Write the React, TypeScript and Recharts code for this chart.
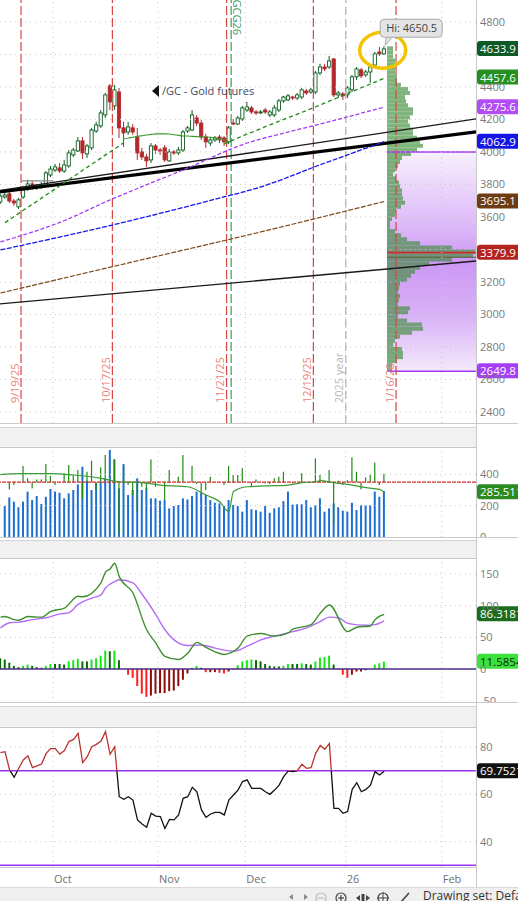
import React from "react";
import {
  ComposedChart,
  BarChart,
  Bar,
  Line,
  XAxis,
  YAxis,
  ReferenceLine,
  ReferenceArea,
  ReferenceDot,
  Cell,
} from "recharts";

const FONT = '"Open Sans", "DejaVu Sans", sans-serif';

// time axis = trading-day index (0 = mid Sep 2025, 84 = last bar)
const X_DOMAIN: [number, number] = [-0.1, 104.1];
const monthPos = [11.5, 34.5, 53.6, 75.6, 96.6];
const monthLabels = ["Oct", "Nov", "Dec", "26", "Feb"];

const markers = [
  { x: 4.5, text: "9/19/25", line: "#d5463f", color: "#ec8179", top: false, dash: "9 3" },
  { x: 24.5, text: "10/17/25", line: "#d5463f", color: "#ec8179", top: false, dash: "9 3" },
  { x: 49.5, text: "11/21/25", line: "#d5463f", color: "#ec8179", top: false, dash: "9 3" },
  { x: 50.5, text: "/GCG26", line: "#3a9c62", color: "#3a9c62", top: true, dash: "9 3" },
  { x: 68.5, text: "12/19/25", line: "#d5463f", color: "#ec8179", top: false, dash: "9 3" },
  { x: 75.6, text: "2025 year", line: "#b0b0b0", color: "#b8b8b8", top: false, dash: "8 4" },
  { x: 86.6, text: "1/16/26", line: "#d5463f", color: "#ec8179", top: false, dash: "9 3" },
];

// ---- price panel ----
const PRICE_DOMAIN: [number, number] = [2332, 4935];
const priceTicks = [2400, 2600, 2800, 3000, 3200, 3600, 3800, 4000, 4200, 4400, 4800];
const priceGrid = [2400, 2600, 2800, 3000, 3200, 3400, 3600, 3800, 4000, 4200, 4400, 4600, 4800];

const open = [
  3692, 3723, 3742, 3698, 3662, 3723, 3772, 3803, 3785, 3785,
  3797, 3858, 3889, 3902, 3883, 3914, 3982, 4006, 4068, 3988,
  4025, 4129, 4160, 4228, 4406, 4283, 4369, 4148, 4123, 4148,
  4092, 4000, 3969, 3951, 4037, 4012, 4025, 3945, 4000, 3994,
  4012, 4129, 4135, 4209, 4178, 4092, 4055, 4074, 4092, 4086,
  4062, 4178, 4172, 4203, 4258, 4271, 4246, 4240, 4258, 4228,
  4228, 4258, 4314, 4320, 4338, 4332, 4338, 4375, 4369, 4369,
  4486, 4523, 4523, 4572, 4351, 4357, 4351, 4382, 4462, 4505,
  4474, 4492, 4535, 4615, 4603,
];
const high = [
  3742, 3748, 3754, 3711, 3717, 3791, 3828, 3822, 3803, 3815,
  3883, 3914, 3926, 3932, 3951, 4012, 4025, 4092, 4092, 4049,
  4148, 4185, 4258, 4363, 4418, 4412, 4394, 4185, 4185, 4172,
  4148, 4025, 3988, 4055, 4049, 4025, 4043, 4018, 4012, 4031,
  4135, 4160, 4258, 4228, 4197, 4111, 4092, 4098, 4105, 4098,
  4160, 4203, 4222, 4283, 4308, 4283, 4258, 4258, 4271, 4258,
  4289, 4326, 4345, 4357, 4345, 4363, 4394, 4388, 4394, 4498,
  4542, 4542, 4591, 4578, 4375, 4369, 4406, 4474, 4523, 4517,
  4505, 4535, 4615, 4646, 4650.5,
];
const low = [
  3680, 3711, 3686, 3668, 3649, 3711, 3760, 3766, 3766, 3772,
  3785, 3846, 3877, 3871, 3871, 3902, 3969, 4000, 3957, 3963,
  4012, 4117, 4148, 4209, 4258, 4258, 4086, 4031, 4105, 4105,
  3951, 3951, 3908, 3932, 3988, 3982, 3938, 3938, 3982, 3982,
  4000, 4117, 4129, 4160, 4074, 4025, 4037, 4062, 4055, 4037,
  4049, 4166, 4166, 4191, 4246, 4234, 4228, 4234, 4234, 4215,
  4215, 4246, 4302, 4314, 4320, 4320, 4326, 4351, 4357, 4357,
  4474, 4498, 4511, 4338, 4332, 4320, 4332, 4369, 4443, 4455,
  4462, 4425, 4523, 4591, 4597,
];
const close = [
  3729, 3735, 3698, 3686, 3705, 3766, 3803, 3785, 3791, 3797,
  3871, 3895, 3908, 3883, 3920, 3994, 4012, 4068, 3994, 4037,
  4135, 4166, 4240, 4351, 4308, 4382, 4148, 4117, 4154, 4123,
  3994, 3969, 3945, 4037, 4012, 4009, 3951, 4000, 3994, 4012,
  4123, 4148, 4228, 4178, 4092, 4062, 4074, 4086, 4074, 4062,
  4148, 4172, 4209, 4271, 4277, 4246, 4240, 4246, 4246, 4246,
  4271, 4314, 4338, 4345, 4332, 4351, 4382, 4363, 4382, 4486,
  4523, 4511, 4560, 4351, 4363, 4345, 4394, 4462, 4511, 4468,
  4492, 4523, 4603, 4603, 4633.9,
];

// dashed green trailing stop (absent while price consolidates)
const trailStop: (number | null)[] = [
  null, 3565, 3584, 3603, 3622, 3641, 3660, 3678, 3697, 3716,
  3735, 3754, 3773, 3792, 3811, 3830, 3849, 3868, 3887, 3906,
  3925, 3943, 3962, 3982, 4000, 4018, 4038, 4058, null, null,
  null, null, null, null, null, null, null, null, null, null,
  null, null, null, null, null, null, null, null, null, 4049,
  4062, 4074, 4086, 4098, 4111, 4121, 4132, 4144, 4156, 4167,
  4178, 4189, 4200, 4211, 4222, 4233, 4244, 4255, 4266, 4278,
  4289, 4301, 4313, 4324, 4336, 4348, 4360, 4372, 4383, 4395,
  4407, 4418, 4430, 4442, 4454,
];
// solid green line through the November range
const midLine: [number, number][] = [
  [27, 4080], [28, 4086], [29, 4090], [30, 4096], [31, 4100], [32, 4104], [33, 4108],
  [34, 4111], [35, 4111], [36, 4111], [37, 4110], [38, 4106], [39, 4102], [40, 4098],
  [41, 4098], [42, 4096], [43, 4094], [44, 4092], [45, 4092], [46, 4090], [47, 4086],
  [48, 4080], [49, 4074], [50, 4062],
];
const maPurple: [number, number][] = [[0, 3446], [14, 3578], [24, 3705], [30, 3775], [40, 3889], [54, 4055], [62, 4116], [70, 4172], [84, 4276]];
const maBlue: [number, number][] = [[0, 3397], [24, 3547], [46, 3702], [57, 3785], [70, 3921], [84, 4063]];
const maBrown: [number, number][] = [[0, 3132], [28, 3317], [57, 3508], [84, 3695]];

const priceTags = [
  { v: 4633.9, text: "4633.9", bg: "#0e5a26" },
  { v: 4457.6, text: "4457.6", bg: "#25901f" },
  { v: 4275.6, text: "4275.6", bg: "#b24cf5" },
  { v: 4062.9, text: "4062.9", bg: "#1515e6" },
  { v: 3695.1, text: "3695.1", bg: "#6e3c12" },
  { v: 3379.9, text: "3379.9", bg: "#b3241f" },
  { v: 2649.8, text: "2649.8", bg: "#a63ef5" },
];

// volume profile (25-point bins from 2650 up)
const profileStart = 2650;
const profileStep = 25;
const profileVol = [
  5, 5, 10, 16, 16, 15, 6, 8, 13, 25,
  36, 35, 20, 11, 21, 23, 11, 12, 13, 11,
  12, 13, 20, 24, 28, 33, 42, 65, 86, 88,
  65, 33, 20, 14, 8, 3, 3, 5, 8, 9,
  14, 18, 16, 15, 15, 13, 12, 9, 6, 8,
  11, 13, 15, 24, 30, 36, 33, 30, 26, 26,
  23, 21, 23, 26, 26, 21, 19, 18, 23, 21,
  14, 10, 10, 8, 8, 8, 8, 6, 6, 6,
];

// ---- volume panel ----
const volume: (number | null)[] = [
  null, 198, 253, 226, 190, 226, 290, 236, 262, 211,
  257, 307, 290, 283, 247, 279, 300, 336, 449, 360,
  300, 343, 353, 375, 556, 496, 311, 466, 268, 300,
  375, 300, 311, 247, 247, 232, 236, 183, 198, 204,
  247, 240, 262, 290, 279, 268, 236, 219, 215, 198,
  236, 204, 198, 162, 236, 177, 172, 162, 198, 155,
  183, 190, 230, 290, 207, 209, 209, 236, 190, 204,
  247, 162, 183, 215, 190, 168, 162, 219, 172, 204,
  204, 204, 290, 257, 294,
];
const VOL_BASE = 350;
const volDev: (number | null)[] = [
  null, null, 304, 332, null, 454, 375, 311, 368, 368,
  466, 390, 332, null, 407, 460, 396, 428, 247, 417,
  488, 300, 445, 524, null, 496, 24, 460, 332, 268,
  162, 321, 300, 496, 321, null, 236, 428, null, 385,
  524, null, 454, 339, 268, 300, 385, null, null, 332,
  454, 396, 396, 439, null, 321, 368, null, 343, 339,
  375, 385, 417, null, 343, null, 407, null, 347, 502,
  396, null, 428, 77, 360, 332, 364, 509, 417, 304,
  381, 396, 475, 332, 403,
];
const volAvg: [number, number][] = [
  [0, 398], [4, 405], [11, 405], [16, 396], [22, 375], [26, 353], [31, 347], [35, 332],
  [41, 321], [45, 268], [48, 225], [50, 162], [51, 290], [54, 321], [58, 326], [63, 332],
  [66, 347], [69, 353], [70, 360], [73, 347], [77, 332], [80, 315], [83, 304], [84, 286],
];

// ---- MACD panel ----
const macdLine: [number, number][] = [
  [0, 82], [1, 83], [3, 78], [4, 77], [6, 83], [8, 82], [9, 82], [11, 91], [14, 96], [17, 115],
  [18, 114], [22, 136], [23, 153], [24, 158], [25, 167], [26, 146], [29, 120], [32, 62], [34, 41],
  [36, 20], [39, 15], [41, 25], [43, 42], [45, 34], [49, 23], [52, 33], [54, 52], [57, 56], [60, 52],
  [63, 57], [64, 63], [65, 65], [68, 70], [70, 88], [72, 101], [76, 59], [78, 66], [81, 68], [82, 78],
  [84, 86.3],
];
const signalLine: [number, number][] = [
  [0, 65], [2, 73], [4, 74], [7, 78], [10, 81], [13, 87], [15, 89], [17, 102], [20, 112], [22, 117],
  [23, 128], [25, 138], [26, 141], [29, 136], [31, 118], [34, 86], [36, 62], [39, 41], [41, 37],
  [44, 38], [47, 33], [51, 28], [54, 36], [57, 46], [60, 52], [64, 59], [67, 65], [70, 75], [72, 82],
  [74, 81], [76, 72], [80, 69], [82, 70], [84, 76],
];
const macdHist = [
  17, 15, 10, 5, 3, 5, 7, 5, 3, 2,
  5, 8, 8, 8, 7, 12, 14, 16, 12, 12,
  15, 17, 21, 29, 28, 29, 14, 0, -9, -14,
  -27, -39, -44, -42, -39, -38, -38, -35, -34, -27,
  -17, -7, 2, 5, 2, -5, -5, -5, -6, -7,
  -4, -1, 6, 12, 14, 15, 14, 12, 8, 5,
  4, 4, 5, 8, 8, 8, 9, 8, 7, 12,
  18, 19, 21, 7, -1, -9, -14, -9, -4, -4,
  -2, 0, 7, 9, 11.6,
];

// ---- RSI panel ----
const rsi = [
  77.6, 78.0, 70.3, 67.2, 71.0, 74.5, 76.3, 71.3, 72.0, 72.8,
  77.3, 79.3, 79.3, 77.0, 78.5, 82.3, 83.2, 85.8, 73.4, 75.9,
  80.1, 81.1, 82.5, 86.5, 76.9, 80.1, 59.0, 57.9, 59.0, 57.6,
  49.2, 47.5, 46.1, 52.0, 50.8, 50.6, 45.6, 49.4, 49.2, 51.3,
  58.3, 59.0, 63.0, 61.1, 53.4, 50.3, 51.7, 52.4, 52.4, 51.3,
  57.6, 59.7, 61.8, 65.4, 66.1, 62.5, 62.5, 62.5, 61.1, 60.0,
  61.8, 63.9, 67.5, 69.9, 69.6, 70.0, 72.7, 71.0, 71.3, 77.3,
  80.6, 79.0, 81.5, 54.1, 54.1, 52.0, 52.7, 62.1, 64.9, 61.1,
  62.1, 63.9, 69.6, 68.2, 69.75,
];

// ---------- rows ----------
const rowsOf = (pts: [number, number][]) => pts.map(([i, v]) => ({ i, v }));

const priceRows = close.map((c, i) => ({
  i,
  o: open[i],
  h: high[i],
  l: low[i],
  c,
  range: [low[i], high[i]],
  trail: trailStop[i],
}));

const profileRows = profileVol.map((v, k) => ({ p: profileStart + profileStep * (k + 0.5), v }));

const volRows = volume.map((v, i) => {
  const d = volDev[i];
  return {
    i,
    vol: v,
    dev: d == null ? null : [Math.min(VOL_BASE, d), Math.max(VOL_BASE, d)],
  };
});

const macdRows = macdHist.map((h, i) => ({ i, hist: h }));
const histColor = (i: number) => {
  const v = macdHist[i];
  const prev = i > 0 ? macdHist[i - 1] : v;
  if (v >= 0) return v > prev ? "#19e619" : "#0a6a0a";
  return v < prev ? "#ff1f1f" : "#8c0b0b";
};

const rsiRows = rsi.map((v, i) => ({ i, rsi: v }));
const rsiMax = Math.max(...rsi);
const rsiMin = Math.min(...rsi);
const rsiSplit = (rsiMax - 70) / (rsiMax - rsiMin);

// ---------- small renderers ----------
function Candle(props: any) {
  const { x, y, width, height, payload } = props;
  if (!payload || payload.h == null) return null;
  const { o, h, l, c } = payload;
  const k = h - l > 0 ? height / (h - l) : 0;
  const cx = x + width / 2;
  const yO = y + (h - o) * k;
  const yC = y + (h - c) * k;
  const up = c >= o;
  const col = up ? "#0b5d1e" : "#b3282d";
  const top = Math.min(yO, yC);
  const bh = Math.max(Math.abs(yC - yO), 1);
  return (
    <g>
      <line x1={cx} x2={cx} y1={y} y2={y + height} stroke={col} strokeWidth={1} />
      <rect x={cx - 1.6} y={top} width={3.2} height={bh} fill={up ? "#fff" : col} stroke={col} strokeWidth={0.9} />
    </g>
  );
}

function DevBar(props: any) {
  const { x, y, width, height } = props;
  if (height == null || isNaN(height)) return null;
  return <rect x={x + width / 2 - 0.6} y={y} width={1.2} height={Math.abs(height)} fill="#1e8c12" />;
}

function Tag(props: any) {
  const { viewBox, text, bg, fg = "#fff" } = props;
  if (!viewBox) return null;
  const x = viewBox.x + viewBox.width + 1;
  const y = viewBox.y;
  return (
    <g>
      <rect x={x} y={y - 8} width={50} height={15} rx={3} ry={3} fill={bg} />
      <text x={x + 3} y={y + 4} fill={fg} fontSize={11.5} fontFamily={FONT}>
        {text}
      </text>
    </g>
  );
}

function MarkerLabel(props: any) {
  const { viewBox, text, color, top } = props;
  if (!viewBox) return null;
  const x = viewBox.x;
  if (top) {
    return (
      <text transform={`translate(${x + 2},${viewBox.y + 35}) rotate(90)`} textAnchor="end" fontSize={11} fill={color} fontFamily={FONT}>
        {text}
      </text>
    );
  }
  return (
    <text transform={`translate(${x - 2.5},${viewBox.y + viewBox.height - 20}) rotate(-90)`} textAnchor="start" fontSize={11} fill={color} fontFamily={FONT}>
      {text}
    </text>
  );
}

function HiBubble(props: any) {
  const { cx, cy } = props;
  return (
    <g>
      <ellipse cx={cx - 1.5} cy={cy + 4} rx={23} ry={18} fill="none" stroke="#f3c300" strokeWidth={3.5} />
      <path d={`M ${cx + 2} ${cy - 10} L ${cx + 1} ${cy - 1} L ${cx + 9} ${cy - 10}`} fill="#e4e4e4" stroke="#a9a9a9" strokeWidth={1} />
      <rect x={cx - 4} y={cy - 27} width={62} height={18} rx={4} ry={4} fill="#e4e4e4" stroke="#a9a9a9" strokeWidth={1} />
      <text x={cx + 2} y={cy - 14} fontSize={11} fill="#444" fontFamily={FONT}>
        Hi: 4650.5
      </text>
    </g>
  );
}

function MonthTick(props: any) {
  const { x, y, payload } = props;
  const k = monthPos.indexOf(payload.value);
  return (
    <text x={x + 1} y={y + 16} fontSize={11} fill="#707070" fontFamily={FONT}>
      {monthLabels[k]}
    </text>
  );
}

const tickStyle = { fontSize: 11, fill: "#7a7a7a", fontFamily: FONT };
const gridProps = { stroke: "#c6c6c6", strokeDasharray: "1 4", strokeWidth: 1 };

const monthLines = () =>
  monthPos.map((m) => <ReferenceLine key={`m${m}`} x={m} {...gridProps} />);

// ---------- panels ----------
function ProfileChart() {
  return (
    <BarChart width={89} height={423} data={profileRows} layout="vertical" margin={{ top: 0, right: 0, bottom: 0, left: 0 }}>
      <defs>
        <linearGradient id="vaGrad" x1="0" y1="0" x2="0" y2="1">
          <stop offset="0" stopColor="#f7f0fd" />
          <stop offset="0.35" stopColor="#dcb6f8" />
          <stop offset="0.5" stopColor="#cc97f4" />
          <stop offset="0.75" stopColor="#d9b2f7" />
          <stop offset="1" stopColor="#f4e9fc" />
        </linearGradient>
      </defs>
      <XAxis type="number" domain={[0, 89]} hide allowDataOverflow />
      <YAxis type="number" dataKey="p" domain={PRICE_DOMAIN} hide allowDataOverflow reversed />
      <ReferenceArea y1={2649.8} y2={4000} fill="url(#vaGrad)" fillOpacity={1} stroke="none" />
      <Bar dataKey="v" barSize={4} fill="#3d8f3a" fillOpacity={0.66} isAnimationActive={false} />
      <ReferenceLine y={4000} stroke="#a335f2" strokeWidth={1.5} />
      <ReferenceLine y={2649.8} stroke="#a335f2" strokeWidth={1.5} />
      <ReferenceLine y={3352} stroke="#5b5b2a" strokeWidth={1.2} />
      <ReferenceLine y={3379.9} stroke="#cf2b2b" strokeWidth={1.8} />
    </BarChart>
  );
}

function PriceChart() {
  return (
    <ComposedChart width={518} height={423} data={priceRows} margin={{ top: 0, right: 0, bottom: 0, left: 0 }}>
      <XAxis type="number" dataKey="i" domain={X_DOMAIN} hide allowDataOverflow />
      <YAxis
        orientation="right"
        width={42}
        domain={PRICE_DOMAIN}
        ticks={priceTicks}
        allowDataOverflow
        axisLine={false}
        tickLine={false}
        tickSize={0}
        tickMargin={4}
        tick={tickStyle}
        interval={0}
      />
      {priceGrid.map((v) => (
        <ReferenceLine key={`g${v}`} y={v} {...gridProps} />
      ))}
      {monthLines()}
      {markers.map((m) => (
        <ReferenceLine
          key={m.text}
          x={m.x}
          stroke={m.line}
          strokeWidth={1.2}
          strokeDasharray={m.dash}
          label={<MarkerLabel text={m.text} color={m.color} top={m.top} />}
        />
      ))}
      <ReferenceLine segment={[{ x: 4.6, y: 3822 }, { x: 11.6, y: 3822 }]} stroke="#8a8a8a" strokeWidth={1.3} />
      <ReferenceLine segment={[{ x: -0.1, y: 3065 }, { x: 104.1, y: 3329 }]} stroke="#1a1a1a" strokeWidth={1.3} />
      <ReferenceLine segment={[{ x: -0.1, y: 3763 }, { x: 104.1, y: 4203 }]} stroke="#1a1a1a" strokeWidth={1.3} />
      <ReferenceLine segment={[{ x: -0.1, y: 3754 }, { x: 104.1, y: 4123 }]} stroke="#000" strokeWidth={3.2} />
      <Line data={rowsOf(maBrown)} dataKey="v" type="monotone" stroke="#7b4a1c" strokeWidth={1.2} strokeDasharray="5 1.5" dot={false} activeDot={false} isAnimationActive={false} />
      <Line data={rowsOf(maBlue)} dataKey="v" type="monotone" stroke="#1717f0" strokeWidth={1.3} strokeDasharray="5 1.5" dot={false} activeDot={false} isAnimationActive={false} />
      <Line data={rowsOf(maPurple)} dataKey="v" type="monotone" stroke="#a33cf6" strokeWidth={1.3} strokeDasharray="4 2" dot={false} activeDot={false} isAnimationActive={false} />
      <Line data={rowsOf(midLine)} dataKey="v" type="monotone" stroke="#3b9a2c" strokeWidth={1.1} dot={false} activeDot={false} isAnimationActive={false} />
      <Line dataKey="trail" type="linear" stroke="#1f8a14" strokeWidth={1.3} strokeDasharray="4 3" dot={false} activeDot={false} isAnimationActive={false} />
      <Bar dataKey="range" barSize={5} shape={(p: any) => <Candle {...p} />} isAnimationActive={false} />
      {priceTags.map((t) => (
        <ReferenceLine key={t.text} y={t.v} stroke="none" label={<Tag text={t.text} bg={t.bg} />} />
      ))}
      <ReferenceDot x={84} y={4650.5} r={0} shape={(p: any) => <HiBubble {...p} />} />
    </ComposedChart>
  );
}

function VolumeChart() {
  return (
    <ComposedChart width={518} height={90} data={volRows} barGap={-2} margin={{ top: 0, right: 0, bottom: 0, left: 0 }}>
      <XAxis type="number" dataKey="i" domain={X_DOMAIN} hide allowDataOverflow />
      <YAxis orientation="right" width={42} domain={[0, 575]} ticks={[0, 200, 400]} allowDataOverflow axisLine={false} tickLine={false} tickSize={0} tickMargin={4} tick={tickStyle} interval={0} />
      <ReferenceLine y={200} {...gridProps} />
      <ReferenceLine y={400} {...gridProps} />
      {monthLines()}
      <Bar dataKey="vol" barSize={2} fill="#1d6fd0" isAnimationActive={false} />
      <Bar dataKey="dev" barSize={2} shape={(p: any) => <DevBar {...p} />} isAnimationActive={false} />
      <ReferenceLine y={VOL_BASE} stroke="#d22a2a" strokeWidth={1.2} strokeDasharray="4 1" />
      <Line data={rowsOf(volAvg)} dataKey="v" type="monotone" stroke="#3c9a35" strokeWidth={1.2} dot={false} activeDot={false} isAnimationActive={false} />
      <ReferenceLine y={285.511} stroke="none" label={<Tag text="285.511" bg="#2b8a22" />} />
    </ComposedChart>
  );
}

function MacdChart() {
  return (
    <ComposedChart width={518} height={145} data={macdRows} margin={{ top: 0, right: 0, bottom: 0, left: 0 }}>
      <XAxis type="number" dataKey="i" domain={X_DOMAIN} hide allowDataOverflow />
      <YAxis orientation="right" width={42} domain={[-53.7, 175.3]} ticks={[-50, 0, 50, 100, 150]} allowDataOverflow axisLine={false} tickLine={false} tickSize={0} tickMargin={4} tick={tickStyle} interval={0} />
      <ReferenceLine y={50} {...gridProps} />
      <ReferenceLine y={100} {...gridProps} />
      <ReferenceLine y={150} {...gridProps} />
      {monthLines()}
      <Bar dataKey="hist" barSize={2} isAnimationActive={false}>
        {macdRows.map((r) => (
          <Cell key={r.i} fill={histColor(r.i)} />
        ))}
      </Bar>
      <ReferenceLine y={0} stroke="#4d2a86" strokeWidth={1.5} />
      <Line data={rowsOf(signalLine)} dataKey="v" type="monotone" stroke="#b46cf7" strokeWidth={1.4} dot={false} activeDot={false} isAnimationActive={false} />
      <Line data={rowsOf(macdLine)} dataKey="v" type="monotone" stroke="#3f8f2f" strokeWidth={1.4} dot={false} activeDot={false} isAnimationActive={false} />
      <ReferenceLine y={86.3181} stroke="none" label={<Tag text="86.3181" bg="#1d6b1d" />} />
      <ReferenceLine y={11.5854} stroke="none" label={<Tag text="11.5854" bg="#3ce23c" fg="#0c2a0c" />} />
    </ComposedChart>
  );
}

function RsiChart() {
  return (
    <ComposedChart width={518} height={160} data={rsiRows} margin={{ top: 0, right: 0, bottom: 0, left: 0 }}>
      <defs>
        <linearGradient id="rsiSplit" x1="0" y1="0" x2="0" y2="1">
          <stop offset={rsiSplit} stopColor="#b8332f" />
          <stop offset={rsiSplit} stopColor="#111" />
        </linearGradient>
      </defs>
      <XAxis
        type="number"
        dataKey="i"
        domain={X_DOMAIN}
        ticks={monthPos}
        interval={0}
        height={20}
        axisLine={false}
        tickLine={false}
        tickSize={0}
        tickMargin={0}
        tick={(p: any) => <MonthTick {...p} />}
        allowDataOverflow
      />
      <YAxis orientation="right" width={42} domain={[29.3, 88.45]} ticks={[40, 60, 80]} allowDataOverflow axisLine={false} tickLine={false} tickSize={0} tickMargin={4} tick={tickStyle} interval={0} />
      <ReferenceLine y={40} {...gridProps} />
      <ReferenceLine y={60} {...gridProps} />
      <ReferenceLine y={80} {...gridProps} />
      {monthLines()}
      <ReferenceLine y={70} stroke="#9b2ff5" strokeWidth={1.5} />
      <ReferenceLine y={30} stroke="#9b2ff5" strokeWidth={1.5} />
      <Line dataKey="rsi" type="linear" stroke="url(#rsiSplit)" strokeWidth={1.3} dot={false} activeDot={false} isAnimationActive={false} />
      <ReferenceLine y={69.7521} stroke="none" label={<Tag text="69.7521" bg="#111" />} />
    </ComposedChart>
  );
}

function HeaderBand({ top, height, bandTop, bandHeight }: { top: number; height: number; bandTop: number; bandHeight: number }) {
  return (
    <div style={{ position: "absolute", left: 0, top, width: 518, height, background: "#fff", borderTop: "1px solid #c9c9c9", boxSizing: "border-box", zIndex: 3 }}>
      <div
        style={{
          position: "absolute",
          left: 0,
          top: bandTop,
          width: 476,
          height: bandHeight,
          background: "#f1f1f1",
          borderTop: "1px solid #d3d3d3",
          borderBottom: "1px solid #c6c6c6",
          boxSizing: "border-box",
        }}
      />
    </div>
  );
}

function Toolbar() {
  const g = "#8a8a8a";
  return (
    <div style={{ position: "absolute", left: 0, top: 887, width: 518, height: 14, background: "#efefef", borderTop: "1px solid #dadada", boxSizing: "border-box", zIndex: 3, overflow: "hidden" }}>
      <svg width={420} height={14} style={{ position: "absolute", left: 0, top: 0 }}>
        <polygon points="289,9 293,6 293,12" fill={g} />
        <polygon points="308,9 304,6 304,12" fill={g} />
        <circle cx={321} cy={10} r={5} fill="none" stroke="#bdbdbd" strokeWidth={1.2} />
        <line x1={318} x2={324} y1={10} y2={10} stroke="#bdbdbd" strokeWidth={1.2} />
        <circle cx={341} cy={10} r={5} fill="none" stroke="#444" strokeWidth={1.2} />
        <line x1={338} x2={344} y1={10} y2={10} stroke="#444" strokeWidth={1.2} />
        <line x1={341} x2={341} y1={7} y2={13} stroke="#444" strokeWidth={1.2} />
        <polygon points="356,10 360,7 360,13" fill="#444" />
        <rect x={361.5} y={6} width={3} height={8} fill="#444" />
        <polygon points="370,10 366,7 366,13" fill="#444" />
        <circle cx={383} cy={10} r={5} fill="none" stroke="#444" strokeWidth={1.2} />
        <line x1={377} x2={389} y1={10} y2={10} stroke="#444" strokeWidth={1} />
        <line x1={383} x2={383} y1={4} y2={16} stroke="#444" strokeWidth={1} />
        <line x1={401} x2={409} y1={14} y2={5} stroke="#444" strokeWidth={1.6} />
      </svg>
      <span style={{ position: "absolute", left: 423, top: 1, fontSize: 12, color: "#333", whiteSpace: "nowrap", lineHeight: "14px" }}>
        Drawing set: Default
      </span>
    </div>
  );
}

export default function App() {
  return (
    <div style={{ position: "fixed", left: 0, top: 0, width: 518, height: 901, background: "#fff", overflow: "hidden", fontFamily: FONT }}>
      <div style={{ position: "absolute", left: 387, top: 0, zIndex: 1 }}>
        <ProfileChart />
      </div>
      <div style={{ position: "absolute", left: 0, top: 0, zIndex: 2 }}>
        <PriceChart />
      </div>
      <div style={{ position: "absolute", left: 0, top: 447, zIndex: 2 }}>
        <VolumeChart />
      </div>
      <div style={{ position: "absolute", left: 0, top: 558, zIndex: 2 }}>
        <MacdChart />
      </div>
      <div style={{ position: "absolute", left: 0, top: 727, zIndex: 2 }}>
        <RsiChart />
      </div>

      <div style={{ position: "absolute", left: 152, top: 85, zIndex: 3, display: "flex", alignItems: "center", fontSize: 11, lineHeight: "12px", color: "#3d4a66" }}>
        <svg width={8} height={12}>
          <polygon points="0,6 7,0 7,12" fill="#111" />
        </svg>
        <span style={{ marginLeft: 2 }}>/GC - Gold futures</span>
      </div>

      <HeaderBand top={423} height={24} bandTop={3} bandHeight={21} />
      <HeaderBand top={537} height={21} bandTop={2} bandHeight={19} />
      <HeaderBand top={702} height={25} bandTop={3} bandHeight={22} />
      <div style={{ position: "absolute", left: 0, top: 867, width: 476, height: 1, background: "#c9c9c9", zIndex: 3 }} />
      <div style={{ position: "absolute", left: 476, top: 0, width: 1, height: 887, background: "#c9c9c9", zIndex: 3 }} />
      <Toolbar />
    </div>
  );
}
